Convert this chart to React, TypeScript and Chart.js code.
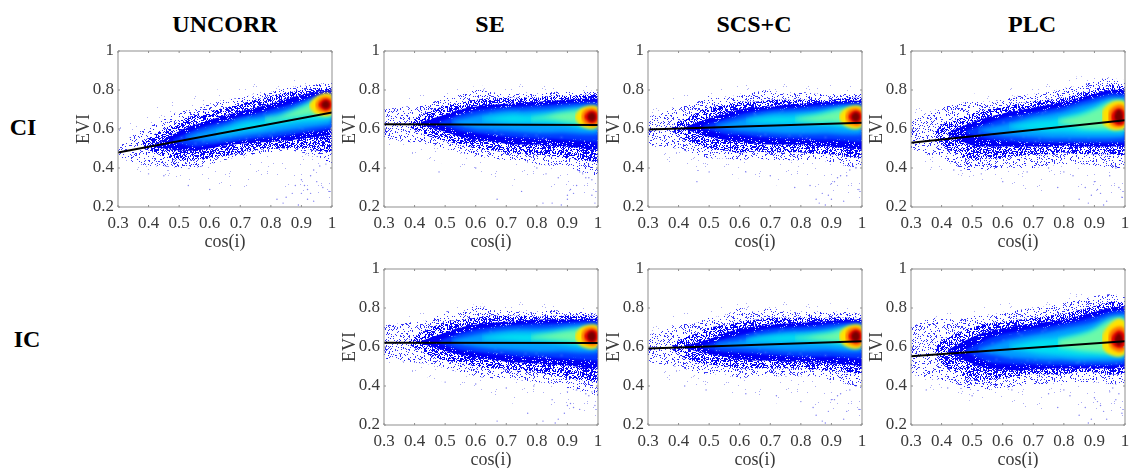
import React, { useEffect, useRef } from "react";
import { Chart, registerables } from "chart.js";

// Each density band of a panel is an envelope (upper and lower EVI) read at these cos(i) stations.
const xFaint = [0.3, 0.5, 0.7, 0.85, 1];
const xOuter = [0.3, 0.35, 0.4, 0.45, 0.5, 0.55, 0.6, 0.65, 0.7, 0.75, 0.8, 0.85, 0.9, 0.95, 1];
const xDense = [0.38, 0.4, 0.45, 0.5, 0.55, 0.6, 0.65, 0.7, 0.75, 0.8, 0.85, 0.9, 0.95, 1];
const xSolid = [0.42, 0.5, 0.55, 0.6, 0.65, 0.7, 0.75, 0.8, 0.85, 0.9, 0.95, 1];
const xMid = [0.48, 0.55, 0.6, 0.65, 0.7, 0.75, 0.8, 0.85, 0.9, 0.95, 1];
const xLight = [0.52, 0.6, 0.65, 0.7, 0.75, 0.8, 0.85, 0.9, 0.95, 1];
const xCyan = [0.62, 0.72, 0.76, 0.8, 0.85, 0.9, 0.95, 1];
const xGreen = [0.78, 0.82, 0.86, 0.9, 0.93, 0.96, 1];
const xYellow = [0.925, 0.94, 0.96, 0.98, 1];
const xOrange = [0.945, 0.955, 0.97, 0.985, 1];
const xRed = [0.955, 0.965, 0.98, 0.995, 1];
const xDark = [0.965, 0.972, 0.98, 0.988, 0.993];
const stations = [xFaint, xOuter, xDense, xSolid, xMid, xLight, xCyan, xGreen, xYellow, xOrange, xRed, xDark];

const ciUncorrHi = [
  [0.62, 0.76, 0.82, 0.85, 0.86],
  [0.5, 0.57, 0.61, 0.65, 0.69, 0.7, 0.73, 0.75, 0.76, 0.78, 0.79, 0.81, 0.82, 0.83, 0.84],
  [0.535, 0.555, 0.6, 0.64, 0.67, 0.69, 0.71, 0.73, 0.75, 0.77, 0.785, 0.8, 0.81, 0.81],
  [0.515, 0.59, 0.62, 0.645, 0.67, 0.69, 0.71, 0.73, 0.755, 0.775, 0.79, 0.8],
  [0.545, 0.595, 0.62, 0.64, 0.66, 0.68, 0.7, 0.72, 0.745, 0.77, 0.78],
  [0.56, 0.6, 0.62, 0.65, 0.66, 0.68, 0.7, 0.73, 0.75, 0.765],
  [0.582, 0.635, 0.64, 0.655, 0.675, 0.71, 0.745, 0.755],
  [0.655, 0.66, 0.685, 0.71, 0.735, 0.76, 0.765],
  [0.725, 0.755, 0.775, 0.785, 0.78],
  [0.725, 0.75, 0.765, 0.765, 0.755],
  [0.725, 0.745, 0.755, 0.745, 0.73],
  [0.725, 0.74, 0.745, 0.74, 0.725],
];
const ciUncorrLo = [
  [0.4, 0.33, 0.3, 0.25, 0.22],
  [0.45, 0.43, 0.41, 0.41, 0.4, 0.4, 0.42, 0.44, 0.46, 0.47, 0.48, 0.49, 0.48, 0.46, 0.42],
  [0.525, 0.49, 0.46, 0.44, 0.44, 0.45, 0.46, 0.48, 0.49, 0.5, 0.5, 0.5, 0.49, 0.48],
  [0.505, 0.49, 0.49, 0.5, 0.515, 0.525, 0.53, 0.535, 0.54, 0.55, 0.56, 0.57],
  [0.535, 0.51, 0.52, 0.53, 0.54, 0.55, 0.555, 0.565, 0.58, 0.59, 0.6],
  [0.55, 0.54, 0.55, 0.56, 0.57, 0.58, 0.59, 0.6, 0.61, 0.62],
  [0.572, 0.595, 0.6, 0.615, 0.625, 0.635, 0.64, 0.65],
  [0.64, 0.645, 0.655, 0.665, 0.67, 0.665, 0.665],
  [0.715, 0.685, 0.67, 0.665, 0.67],
  [0.72, 0.695, 0.685, 0.68, 0.69],
  [0.72, 0.705, 0.695, 0.705, 0.72],
  [0.722, 0.71, 0.705, 0.71, 0.722],
];
const ciUncorrFit = [0.48, 0.685];
const ciUncorrStray = [[0.85, 0.25], [0.89, 0.21], [0.92, 0.24], [0.94, 0.23], [0.9, 0.34], [0.91, 0.31], [0.92, 0.29], [0.93, 0.36], [0.94, 0.39], [0.96, 0.41], [0.98, 0.42], [0.95, 0.33], [0.97, 0.3], [0.87, 0.27], [0.82, 0.24], [0.84, 0.22], [0.9, 0.27], [0.99, 0.28], [0.93, 0.27], [0.88, 0.31], [0.45, 0.36], [0.53, 0.31], [0.4, 0.37], [0.6, 0.29]];

const ciSeHi = [
  [0.74, 0.8, 0.83, 0.82, 0.82],
  [0.7, 0.71, 0.72, 0.73, 0.77, 0.78, 0.8, 0.79, 0.78, 0.78, 0.78, 0.79, 0.79, 0.79, 0.8],
  [0.635, 0.655, 0.69, 0.72, 0.735, 0.75, 0.755, 0.76, 0.76, 0.76, 0.77, 0.77, 0.775, 0.78],
  [0.636, 0.675, 0.7, 0.715, 0.725, 0.73, 0.735, 0.74, 0.745, 0.75, 0.755, 0.755],
  [0.636, 0.675, 0.695, 0.705, 0.71, 0.715, 0.72, 0.725, 0.73, 0.735, 0.735],
  [0.64, 0.67, 0.685, 0.695, 0.695, 0.7, 0.705, 0.715, 0.72, 0.72],
  [0.655, 0.675, 0.67, 0.675, 0.68, 0.69, 0.7, 0.7],
  [0.655, 0.665, 0.68, 0.69, 0.695, 0.7, 0.695],
  [0.67, 0.7, 0.715, 0.72, 0.715],
  [0.665, 0.695, 0.705, 0.705, 0.695],
  [0.665, 0.685, 0.695, 0.685, 0.67],
  [0.665, 0.68, 0.685, 0.68, 0.665],
];
const ciSeLo = [
  [0.5, 0.42, 0.32, 0.24, 0.22],
  [0.55, 0.54, 0.53, 0.52, 0.5, 0.48, 0.46, 0.45, 0.44, 0.44, 0.42, 0.41, 0.4, 0.38, 0.36],
  [0.615, 0.595, 0.56, 0.54, 0.52, 0.5, 0.49, 0.48, 0.475, 0.47, 0.46, 0.45, 0.44, 0.43],
  [0.624, 0.585, 0.56, 0.545, 0.535, 0.525, 0.52, 0.52, 0.515, 0.51, 0.5, 0.49],
  [0.624, 0.59, 0.58, 0.57, 0.56, 0.555, 0.55, 0.55, 0.545, 0.54, 0.535],
  [0.63, 0.6, 0.595, 0.59, 0.585, 0.58, 0.58, 0.58, 0.575, 0.575],
  [0.645, 0.63, 0.63, 0.63, 0.625, 0.62, 0.605, 0.6],
  [0.645, 0.65, 0.645, 0.635, 0.63, 0.62, 0.62],
  [0.655, 0.62, 0.605, 0.6, 0.61],
  [0.66, 0.63, 0.62, 0.615, 0.625],
  [0.66, 0.64, 0.63, 0.64, 0.655],
  [0.66, 0.645, 0.64, 0.645, 0.66],
];
const ciSeFit = [0.625, 0.62];
const ciSeStray = [[0.85, 0.22], [0.88, 0.21], [0.91, 0.29], [0.92, 0.27], [0.93, 0.31], [0.9, 0.26], [0.96, 0.35], [0.97, 0.35], [0.98, 0.34], [0.94, 0.38], [0.95, 0.37], [0.87, 0.35], [0.83, 0.37], [0.8, 0.4], [0.9, 0.24], [0.98, 0.26], [0.75, 0.28], [0.67, 0.24], [0.6, 0.4], [0.48, 0.38], [0.82, 0.22], [0.99, 0.22]];

const ciScsHi = [
  [0.74, 0.8, 0.85, 0.83, 0.82],
  [0.66, 0.69, 0.72, 0.73, 0.77, 0.76, 0.78, 0.79, 0.8, 0.78, 0.79, 0.78, 0.78, 0.78, 0.78],
  [0.615, 0.64, 0.675, 0.71, 0.72, 0.74, 0.74, 0.75, 0.75, 0.75, 0.75, 0.75, 0.76, 0.76],
  [0.611, 0.655, 0.68, 0.7, 0.71, 0.715, 0.725, 0.73, 0.735, 0.74, 0.745, 0.745],
  [0.616, 0.65, 0.675, 0.69, 0.7, 0.705, 0.71, 0.72, 0.725, 0.73, 0.73],
  [0.62, 0.65, 0.67, 0.685, 0.69, 0.695, 0.7, 0.71, 0.72, 0.72],
  [0.645, 0.665, 0.665, 0.67, 0.68, 0.695, 0.705, 0.705],
  [0.655, 0.665, 0.675, 0.69, 0.7, 0.7, 0.7],
  [0.67, 0.7, 0.715, 0.72, 0.715],
  [0.665, 0.695, 0.705, 0.705, 0.695],
  [0.665, 0.685, 0.695, 0.685, 0.67],
  [0.665, 0.68, 0.685, 0.68, 0.665],
];
const ciScsLo = [
  [0.46, 0.37, 0.32, 0.24, 0.22],
  [0.52, 0.5, 0.5, 0.47, 0.45, 0.45, 0.44, 0.45, 0.44, 0.44, 0.44, 0.44, 0.43, 0.41, 0.4],
  [0.595, 0.56, 0.525, 0.5, 0.49, 0.48, 0.485, 0.48, 0.48, 0.48, 0.475, 0.47, 0.46, 0.45],
  [0.599, 0.56, 0.545, 0.535, 0.525, 0.52, 0.52, 0.52, 0.515, 0.51, 0.5, 0.495],
  [0.604, 0.575, 0.57, 0.56, 0.555, 0.55, 0.55, 0.545, 0.545, 0.54, 0.535],
  [0.61, 0.59, 0.585, 0.58, 0.575, 0.575, 0.575, 0.575, 0.57, 0.57],
  [0.635, 0.625, 0.625, 0.625, 0.62, 0.615, 0.605, 0.6],
  [0.645, 0.64, 0.635, 0.635, 0.63, 0.625, 0.62],
  [0.655, 0.62, 0.605, 0.6, 0.61],
  [0.66, 0.63, 0.62, 0.615, 0.625],
  [0.66, 0.64, 0.63, 0.64, 0.655],
  [0.66, 0.645, 0.64, 0.645, 0.66],
];
const ciScsFit = [0.597, 0.632];
const ciScsStray = [[0.87, 0.27], [0.88, 0.21], [0.91, 0.33], [0.92, 0.35], [0.93, 0.36], [0.9, 0.32], [0.95, 0.36], [0.94, 0.23], [0.97, 0.41], [0.98, 0.4], [0.96, 0.39], [0.85, 0.24], [0.83, 0.31], [0.78, 0.3], [0.7, 0.36], [0.62, 0.38], [0.5, 0.38], [0.46, 0.33], [0.9, 0.24], [0.86, 0.22], [0.99, 0.29], [0.89, 0.26]];

const ciPlcHi = [
  [0.7, 0.78, 0.83, 0.87, 0.87],
  [0.64, 0.68, 0.71, 0.73, 0.74, 0.74, 0.75, 0.77, 0.78, 0.79, 0.81, 0.82, 0.85, 0.86, 0.85],
  [0.58, 0.62, 0.65, 0.68, 0.7, 0.71, 0.73, 0.74, 0.75, 0.76, 0.78, 0.8, 0.82, 0.82],
  [0.581, 0.635, 0.66, 0.68, 0.695, 0.71, 0.725, 0.74, 0.76, 0.78, 0.8, 0.8],
  [0.591, 0.63, 0.655, 0.67, 0.685, 0.7, 0.715, 0.74, 0.76, 0.78, 0.78],
  [0.6, 0.625, 0.645, 0.665, 0.68, 0.695, 0.72, 0.74, 0.76, 0.76],
  [0.615, 0.645, 0.65, 0.665, 0.685, 0.71, 0.74, 0.75],
  [0.645, 0.66, 0.675, 0.7, 0.725, 0.745, 0.745],
  [0.69, 0.72, 0.74, 0.745, 0.74],
  [0.68, 0.705, 0.72, 0.725, 0.715],
  [0.67, 0.695, 0.705, 0.695, 0.68],
  [0.665, 0.69, 0.7, 0.69, 0.665],
];
const ciPlcLo = [
  [0.42, 0.33, 0.28, 0.24, 0.22],
  [0.5, 0.47, 0.45, 0.41, 0.38, 0.39, 0.4, 0.4, 0.4, 0.41, 0.42, 0.42, 0.41, 0.4, 0.4],
  [0.55, 0.52, 0.47, 0.44, 0.45, 0.45, 0.46, 0.47, 0.47, 0.48, 0.47, 0.47, 0.47, 0.46],
  [0.569, 0.515, 0.51, 0.51, 0.51, 0.51, 0.51, 0.515, 0.51, 0.51, 0.51, 0.51],
  [0.579, 0.55, 0.54, 0.535, 0.53, 0.53, 0.53, 0.53, 0.53, 0.53, 0.53],
  [0.59, 0.565, 0.56, 0.555, 0.55, 0.55, 0.55, 0.55, 0.55, 0.555],
  [0.605, 0.59, 0.585, 0.585, 0.58, 0.58, 0.58, 0.58],
  [0.63, 0.62, 0.605, 0.6, 0.6, 0.6, 0.6],
  [0.63, 0.61, 0.595, 0.595, 0.6],
  [0.645, 0.62, 0.61, 0.61, 0.62],
  [0.65, 0.63, 0.62, 0.625, 0.64],
  [0.66, 0.64, 0.63, 0.64, 0.655],
];
const ciPlcFit = [0.53, 0.645];
const ciPlcStray = [[0.85, 0.24], [0.88, 0.22], [0.91, 0.29], [0.9, 0.33], [0.92, 0.27], [0.94, 0.23], [0.95, 0.36], [0.96, 0.41], [0.97, 0.4], [0.98, 0.3], [0.83, 0.36], [0.8, 0.38], [0.75, 0.4], [0.68, 0.38], [0.53, 0.37], [0.44, 0.39], [0.87, 0.3], [0.93, 0.21], [0.99, 0.25], [0.78, 0.3], [0.6, 0.33], [0.89, 0.26]];

const icSeHi = [
  [0.74, 0.8, 0.83, 0.82, 0.8],
  [0.71, 0.72, 0.73, 0.74, 0.78, 0.78, 0.81, 0.79, 0.79, 0.78, 0.78, 0.79, 0.78, 0.78, 0.77],
  [0.635, 0.655, 0.695, 0.73, 0.74, 0.75, 0.76, 0.76, 0.76, 0.755, 0.76, 0.76, 0.76, 0.76],
  [0.631, 0.675, 0.7, 0.715, 0.725, 0.73, 0.735, 0.74, 0.74, 0.74, 0.745, 0.745],
  [0.631, 0.67, 0.69, 0.7, 0.71, 0.715, 0.72, 0.72, 0.725, 0.73, 0.73],
  [0.636, 0.665, 0.68, 0.69, 0.695, 0.695, 0.7, 0.71, 0.715, 0.715],
  [0.651, 0.67, 0.67, 0.67, 0.675, 0.685, 0.695, 0.695],
  [0.655, 0.665, 0.675, 0.685, 0.69, 0.695, 0.69],
  [0.665, 0.695, 0.71, 0.715, 0.71],
  [0.66, 0.69, 0.7, 0.7, 0.69],
  [0.66, 0.68, 0.69, 0.68, 0.665],
  [0.66, 0.675, 0.68, 0.675, 0.66],
];
const icSeLo = [
  [0.5, 0.42, 0.32, 0.24, 0.22],
  [0.54, 0.53, 0.52, 0.51, 0.49, 0.47, 0.45, 0.44, 0.44, 0.43, 0.42, 0.41, 0.39, 0.37, 0.35],
  [0.615, 0.595, 0.555, 0.53, 0.52, 0.5, 0.49, 0.485, 0.48, 0.47, 0.455, 0.44, 0.43, 0.42],
  [0.619, 0.58, 0.56, 0.545, 0.535, 0.525, 0.52, 0.515, 0.51, 0.505, 0.495, 0.485],
  [0.619, 0.585, 0.575, 0.565, 0.56, 0.55, 0.55, 0.545, 0.54, 0.535, 0.53],
  [0.624, 0.6, 0.59, 0.585, 0.58, 0.575, 0.575, 0.575, 0.57, 0.57],
  [0.639, 0.63, 0.625, 0.625, 0.62, 0.61, 0.6, 0.595],
  [0.64, 0.64, 0.635, 0.63, 0.62, 0.615, 0.61],
  [0.645, 0.61, 0.595, 0.59, 0.6],
  [0.65, 0.62, 0.61, 0.605, 0.615],
  [0.65, 0.63, 0.62, 0.63, 0.645],
  [0.65, 0.635, 0.63, 0.635, 0.65],
];
const icSeFit = [0.622, 0.62];
const icSeStray = [[0.82, 0.22], [0.86, 0.21], [0.89, 0.26], [0.9, 0.3], [0.91, 0.31], [0.92, 0.29], [0.9, 0.37], [0.93, 0.38], [0.96, 0.36], [0.97, 0.35], [0.98, 0.37], [0.85, 0.33], [0.87, 0.23], [0.79, 0.4], [0.7, 0.39], [0.6, 0.41], [0.5, 0.42], [0.94, 0.28], [0.99, 0.3], [0.77, 0.26], [0.67, 0.22]];

const icScsHi = [
  [0.74, 0.8, 0.84, 0.83, 0.81],
  [0.66, 0.69, 0.72, 0.72, 0.75, 0.76, 0.8, 0.78, 0.8, 0.78, 0.78, 0.78, 0.78, 0.78, 0.77],
  [0.61, 0.635, 0.665, 0.7, 0.71, 0.73, 0.74, 0.75, 0.75, 0.75, 0.75, 0.75, 0.75, 0.75],
  [0.606, 0.64, 0.67, 0.695, 0.705, 0.715, 0.72, 0.725, 0.73, 0.735, 0.74, 0.74],
  [0.606, 0.64, 0.66, 0.68, 0.695, 0.7, 0.705, 0.71, 0.72, 0.725, 0.725],
  [0.616, 0.635, 0.655, 0.67, 0.68, 0.685, 0.69, 0.7, 0.71, 0.715],
  [0.641, 0.66, 0.665, 0.665, 0.67, 0.68, 0.695, 0.7],
  [0.65, 0.655, 0.665, 0.675, 0.69, 0.695, 0.695],
  [0.665, 0.695, 0.71, 0.715, 0.71],
  [0.66, 0.69, 0.7, 0.7, 0.69],
  [0.66, 0.68, 0.69, 0.68, 0.665],
  [0.66, 0.675, 0.68, 0.675, 0.66],
];
const icScsLo = [
  [0.46, 0.38, 0.32, 0.24, 0.22],
  [0.53, 0.5, 0.5, 0.47, 0.46, 0.46, 0.44, 0.45, 0.45, 0.45, 0.45, 0.45, 0.43, 0.41, 0.39],
  [0.59, 0.56, 0.525, 0.51, 0.5, 0.49, 0.49, 0.49, 0.49, 0.49, 0.485, 0.48, 0.47, 0.46],
  [0.594, 0.565, 0.55, 0.54, 0.53, 0.53, 0.525, 0.525, 0.52, 0.515, 0.51, 0.5],
  [0.594, 0.575, 0.57, 0.565, 0.56, 0.555, 0.55, 0.55, 0.55, 0.545, 0.54],
  [0.604, 0.595, 0.59, 0.585, 0.58, 0.58, 0.58, 0.58, 0.575, 0.575],
  [0.629, 0.625, 0.625, 0.625, 0.62, 0.615, 0.605, 0.6],
  [0.64, 0.64, 0.635, 0.63, 0.625, 0.62, 0.615],
  [0.645, 0.61, 0.595, 0.59, 0.6],
  [0.65, 0.62, 0.61, 0.605, 0.615],
  [0.65, 0.63, 0.62, 0.63, 0.645],
  [0.65, 0.635, 0.63, 0.635, 0.65],
];
const icScsFit = [0.592, 0.63];
const icScsStray = [[0.85, 0.25], [0.87, 0.22], [0.91, 0.33], [0.92, 0.35], [0.9, 0.33], [0.93, 0.36], [0.94, 0.23], [0.97, 0.41], [0.98, 0.4], [0.96, 0.38], [0.84, 0.29], [0.8, 0.32], [0.72, 0.35], [0.62, 0.36], [0.49, 0.38], [0.42, 0.4], [0.89, 0.27], [0.99, 0.28], [0.88, 0.21], [0.95, 0.27]];

const icPlcHi = [
  [0.74, 0.8, 0.85, 0.88, 0.88],
  [0.7, 0.74, 0.75, 0.74, 0.76, 0.76, 0.78, 0.79, 0.8, 0.81, 0.83, 0.84, 0.86, 0.87, 0.86],
  [0.595, 0.635, 0.67, 0.7, 0.72, 0.73, 0.74, 0.75, 0.76, 0.77, 0.79, 0.81, 0.83, 0.83],
  [0.586, 0.65, 0.68, 0.695, 0.71, 0.72, 0.73, 0.74, 0.76, 0.78, 0.8, 0.81],
  [0.586, 0.64, 0.665, 0.68, 0.695, 0.705, 0.72, 0.735, 0.755, 0.78, 0.79],
  [0.591, 0.63, 0.65, 0.665, 0.68, 0.695, 0.71, 0.73, 0.76, 0.77],
  [0.606, 0.64, 0.645, 0.655, 0.67, 0.695, 0.73, 0.75],
  [0.635, 0.65, 0.665, 0.69, 0.72, 0.745, 0.75],
  [0.66, 0.7, 0.73, 0.745, 0.735],
  [0.655, 0.685, 0.7, 0.705, 0.695],
  [0.645, 0.67, 0.685, 0.675, 0.66],
  [0.64, 0.66, 0.67, 0.66, 0.64],
];
const icPlcLo = [
  [0.42, 0.32, 0.28, 0.24, 0.22],
  [0.46, 0.44, 0.43, 0.41, 0.38, 0.38, 0.39, 0.4, 0.41, 0.41, 0.42, 0.42, 0.42, 0.41, 0.41],
  [0.565, 0.515, 0.47, 0.43, 0.43, 0.44, 0.45, 0.46, 0.46, 0.46, 0.47, 0.47, 0.46, 0.46],
  [0.574, 0.515, 0.49, 0.485, 0.48, 0.485, 0.49, 0.49, 0.49, 0.49, 0.49, 0.5],
  [0.574, 0.525, 0.515, 0.51, 0.51, 0.505, 0.505, 0.505, 0.505, 0.505, 0.51],
  [0.579, 0.55, 0.54, 0.535, 0.53, 0.53, 0.525, 0.525, 0.525, 0.53],
  [0.594, 0.565, 0.56, 0.555, 0.55, 0.55, 0.55, 0.55],
  [0.6, 0.59, 0.58, 0.575, 0.57, 0.57, 0.57],
  [0.6, 0.57, 0.555, 0.55, 0.56],
  [0.625, 0.595, 0.58, 0.575, 0.585],
  [0.625, 0.605, 0.595, 0.6, 0.61],
  [0.635, 0.615, 0.605, 0.615, 0.63],
];
const icPlcFit = [0.553, 0.63];
const icPlcStray = [[0.85, 0.25], [0.88, 0.21], [0.9, 0.34], [0.91, 0.32], [0.92, 0.3], [0.94, 0.23], [0.95, 0.37], [0.96, 0.39], [0.97, 0.33], [0.98, 0.36], [0.82, 0.35], [0.8, 0.38], [0.75, 0.36], [0.63, 0.38], [0.5, 0.35], [0.42, 0.39], [0.35, 0.38], [0.87, 0.29], [0.93, 0.27], [0.99, 0.26], [0.78, 0.29], [0.89, 0.23]];

const xEnds = [0.3, 1];
const xRange = [0.3, 1, 0.1];
const yRange = [0.2, 1, 0.2];
const columnTitles = ["UNCORR", "SE", "SCS+C", "PLC"];
const rowTitles = ["CI", "IC"];
const xAxisTitle = "cos(i)";
const yAxisTitle = "EVI";

const panels = [
  { left: 117.7, top: 51, hi: ciUncorrHi, lo: ciUncorrLo, fit: ciUncorrFit, stray: ciUncorrStray },
  { left: 383.7, top: 51, hi: ciSeHi, lo: ciSeLo, fit: ciSeFit, stray: ciSeStray },
  { left: 647.7, top: 51, hi: ciScsHi, lo: ciScsLo, fit: ciScsFit, stray: ciScsStray },
  { left: 911, top: 51, hi: ciPlcHi, lo: ciPlcLo, fit: ciPlcFit, stray: ciPlcStray },
  { left: 383.7, top: 269, hi: icSeHi, lo: icSeLo, fit: icSeFit, stray: icSeStray },
  { left: 647.7, top: 269, hi: icScsHi, lo: icScsLo, fit: icScsFit, stray: icScsStray },
  { left: 911, top: 269, hi: icPlcHi, lo: icPlcLo, fit: icPlcFit, stray: icPlcStray },
];

const PLOT_W = 215;
const PLOT_H = 156;
const PAD_L = 46;
const PAD_T = 10;
const PAD_R = 3;
const PAD_B = 48;
const SERIF = '"Liberation Serif", "Times New Roman", serif';

// The stippled look of the sparse zones of the density plot is a fill texture, not data.
function stipple(count: number, dot: string, ground?: string) {
  const tile = document.createElement("canvas");
  tile.width = 211;
  tile.height = 199;
  const g = tile.getContext("2d")!;
  if (ground) {
    g.fillStyle = ground;
    g.fillRect(0, 0, 211, 199);
  }
  g.fillStyle = dot;
  for (let i = 1; i <= count; i++) {
    let h = Math.imul(i, 2654435761) >>> 0;
    h = Math.imul(h ^ (h >>> 15), 0x2c1b3c6d) >>> 0;
    g.fillRect(h % 211, (h >>> 11) % 199, 1, 1);
  }
  return g.createPattern(tile, "repeat")!;
}

const blurByDataset = {
  id: "bandBlur",
  beforeDatasetDraw(chart: any, args: any) {
    const blur = chart.data.datasets[args.index].bandBlur;
    if (blur) chart.ctx.filter = `blur(${blur}px)`;
  },
  afterDatasetDraw(chart: any) {
    chart.ctx.filter = "none";
  },
};

const frame = {
  id: "frame",
  afterDraw(chart: any) {
    const { ctx, chartArea: a, scales } = chart;
    ctx.save();
    ctx.strokeStyle = "#8f8f8f";
    ctx.lineWidth = 1;
    ctx.beginPath();
    ctx.rect(a.left, a.top, a.right - a.left, a.bottom - a.top);
    scales.x.ticks.forEach((t: any) => {
      const p = scales.x.getPixelForValue(t.value);
      ctx.moveTo(p, a.bottom);
      ctx.lineTo(p, a.bottom - 2);
      ctx.moveTo(p, a.top);
      ctx.lineTo(p, a.top + 2);
    });
    scales.y.ticks.forEach((t: any) => {
      const p = scales.y.getPixelForValue(t.value);
      ctx.moveTo(a.left, p);
      ctx.lineTo(a.left + 2, p);
      ctx.moveTo(a.right, p);
      ctx.lineTo(a.right - 2, p);
    });
    ctx.stroke();
    ctx.restore();
  },
};

Chart.register(blurByDataset);
Chart.register(...registerables);

function Panel({ panel }: { panel: (typeof panels)[number] }) {
  const ref = useRef<HTMLCanvasElement>(null);
  useEffect(() => {
    const fills: any[] = [
      stipple(500, "rgba(105,105,235,0.55)"),
      stipple(7500, "rgba(20,20,245,0.85)"),
      stipple(30000, "rgba(0,0,245,0.95)"),
      stipple(3400, "rgba(235,240,255,0.95)", "#0000f5"),
      stipple(350, "rgba(190,225,255,0.9)", "#0038ff"),
      "#009cff",
      "#00e0f0",
      "#6cf9a8",
      "#ffe200",
      "#ff7000",
      "#dc0000",
      "#780000",
    ];
    const blurs = [0, 0, 0, 0, 1.2, 2.2, 2.6, 2.4, 1.8, 1.6, 1.2, 1];
    const bandSets: any[] = [];
    for (let b = stations.length - 1; b >= 0; b--) {
      const xs = stations[b];
      bandSets.push(
        {
          data: xs.map((x, i) => ({ x, y: panel.hi[b][i] })),
          fill: "+1",
          backgroundColor: fills[b],
          borderWidth: 0,
          pointRadius: 0,
          tension: 0.35,
          bandBlur: blurs[b],
        },
        {
          data: xs.map((x, i) => ({ x, y: panel.lo[b][i] })),
          fill: false,
          borderWidth: 0,
          pointRadius: 0,
          tension: 0.35,
          bandBlur: 0,
        },
      );
    }
    const chart = new Chart(ref.current!, {
      type: "line",
      data: {
        datasets: [
          {
            data: xEnds.map((x, i) => ({ x, y: panel.fit[i] })),
            borderColor: "#000",
            borderWidth: 2,
            pointRadius: 0,
            fill: false,
          },
          {
            data: panel.stray.map(([x, y]) => ({ x, y })),
            showLine: false,
            pointRadius: 0.7,
            pointBorderWidth: 0,
            pointBackgroundColor: "rgba(70,70,235,0.7)",
          },
          ...bandSets,
        ],
      },
      options: {
        responsive: false,
        animation: false,
        events: [],
        layout: { padding: { left: 0, top: PAD_T, right: PAD_R, bottom: 0 } },
        plugins: { legend: { display: false }, tooltip: { enabled: false } },
        scales: {
          x: {
            type: "linear",
            min: xRange[0],
            max: xRange[1],
            ticks: {
              stepSize: xRange[2],
              autoSkip: false,
              maxRotation: 0,
              padding: 6,
              color: "#3a3a3a",
              font: { family: SERIF, size: 17 },
              callback: (v: any) => String(+Number(v).toFixed(1)),
            },
            grid: { display: false, drawTicks: false },
            border: { display: false },
            title: {
              display: true,
              text: xAxisTitle,
              color: "#3a3a3a",
              font: { family: SERIF, size: 18 },
              padding: { top: 0, bottom: 2 },
            },
            afterFit(s: any) {
              s.height = PAD_B;
              s.paddingLeft = 0;
              s.paddingRight = 0;
            },
          },
          y: {
            min: yRange[0],
            max: yRange[1],
            ticks: {
              stepSize: yRange[2],
              autoSkip: false,
              padding: 4,
              color: "#3a3a3a",
              font: { family: SERIF, size: 17 },
              callback: (v: any) => String(+Number(v).toFixed(1)),
            },
            grid: { display: false, drawTicks: false },
            border: { display: false },
            title: {
              display: true,
              text: yAxisTitle,
              color: "#3a3a3a",
              font: { family: SERIF, size: 18 },
              padding: { top: 1, bottom: 0 },
            },
            afterFit(s: any) {
              s.width = PAD_L;
              s.paddingTop = 0;
              s.paddingBottom = 0;
            },
          },
        },
      },
      plugins: [frame],
    } as any);
    return () => chart.destroy();
  }, [panel]);
  return (
    <canvas
      ref={ref}
      width={PAD_L + PLOT_W + PAD_R}
      height={PAD_T + PLOT_H + PAD_B}
      style={{
        position: "absolute",
        left: panel.left - PAD_L,
        top: panel.top - PAD_T,
        width: PAD_L + PLOT_W + PAD_R,
        height: PAD_T + PLOT_H + PAD_B,
      }}
    />
  );
}

const labelStyle: React.CSSProperties = {
  position: "absolute",
  font: `bold 24px ${SERIF}`,
  color: "#000",
  transform: "translate(-50%, -50%)",
  whiteSpace: "nowrap",
};

export default function App() {
  const columnCentres = [225, 490, 754, 1032];
  return (
    <div
      style={{
        position: "fixed",
        left: 0,
        top: 0,
        width: 1129,
        height: 468,
        overflow: "hidden",
        background: "#fff",
        filter: "blur(0.45px)",
      }}
    >
      {columnTitles.map((t, i) => (
        <div key={t} style={{ ...labelStyle, left: columnCentres[i], top: 24 }}>
          {t}
        </div>
      ))}
      <div style={{ ...labelStyle, left: 23, top: 127 }}>{rowTitles[0]}</div>
      <div style={{ ...labelStyle, left: 27, top: 339 }}>{rowTitles[1]}</div>
      {panels.map((p, i) => (
        <Panel key={i} panel={p} />
      ))}
    </div>
  );
}
